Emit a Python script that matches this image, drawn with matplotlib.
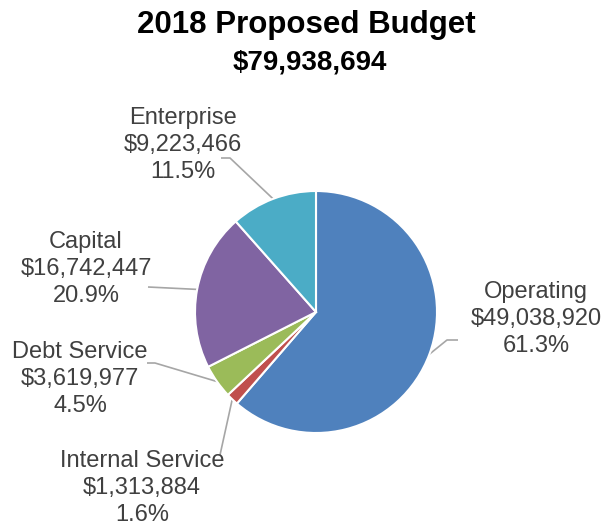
import matplotlib
matplotlib.use("Agg")
import matplotlib.pyplot as plt
import numpy as np

plt.rcParams['font.family'] = ['Liberation Sans', 'DejaVu Sans']

# Data
categories = ["Operating", "Internal Service", "Debt Service", "Capital", "Enterprise"]
amounts = [49038920, 1313884, 3619977, 16742447, 9223466]
colors = ["#4F81BD", "#C0504D", "#9BBB59", "#8064A2", "#4BACC6"]
title = "2018 Proposed Budget"
total = sum(amounts)

# Layout (pixel coordinates, image y downward)
W, H = 612, 525
center_img = (316, 312)
radius = 121
# label center x, first-line baseline y, elbow points near label (x, y)
label_layout = {
    "Operating":        (536, 298, [(458, 340), (447, 340)]),
    "Internal Service": (142, 467, [(220, 455)]),
    "Debt Service":     (80, 358, [(147, 363), (155, 363)]),
    "Capital":          (86, 248, [(148, 287)]),
    "Enterprise":       (183, 124, [(221, 158), (230, 158)]),
}
line_gap = 27
text_color = "#404040"
leader_color = "#A6A6A6"

fig = plt.figure(figsize=(W / 100, H / 100), dpi=100)
ax = fig.add_axes([0, 0, 1, 1])
ax.set_xlim(0, W)
ax.set_ylim(0, H)
ax.set_aspect('equal')
ax.axis('off')

def fy(y):
    return H - y

cx, cy = center_img[0], fy(center_img[1])
wedges, _ = ax.pie(amounts, colors=colors, startangle=90, counterclock=False,
                   center=(cx, cy), radius=radius,
                   wedgeprops=dict(edgecolor='white', linewidth=1.5))
ax.set_xlim(0, W)
ax.set_ylim(0, H)

for w, name, amt in zip(wedges, categories, amounts):
    mid = np.deg2rad((w.theta1 + w.theta2) / 2)
    px, py = cx + radius * np.cos(mid), cy + radius * np.sin(mid)
    lx, by, pts = label_layout[name]
    xs = [p[0] for p in pts] + [px]
    ys = [fy(p[1]) for p in pts] + [py]
    ax.plot(xs, ys, color=leader_color, lw=1.2, solid_capstyle='butt', zorder=0)
    lines = [name, f"${amt:,}", f"{amt / total * 100:.1f}%"]
    for i, s in enumerate(lines):
        ax.text(lx, fy(by + i * line_gap), s, ha='center', va='baseline',
                fontsize=17, color=text_color)

ax.text(306.5, fy(33), title, ha='center', va='baseline', fontsize=22.5,
        fontweight='bold', color='black')
ax.text(309.5, fy(70), f"${total:,}", ha='center', va='baseline', fontsize=20,
        fontweight='bold', color='black')

fig.savefig("out.png", dpi=100, facecolor='white')
